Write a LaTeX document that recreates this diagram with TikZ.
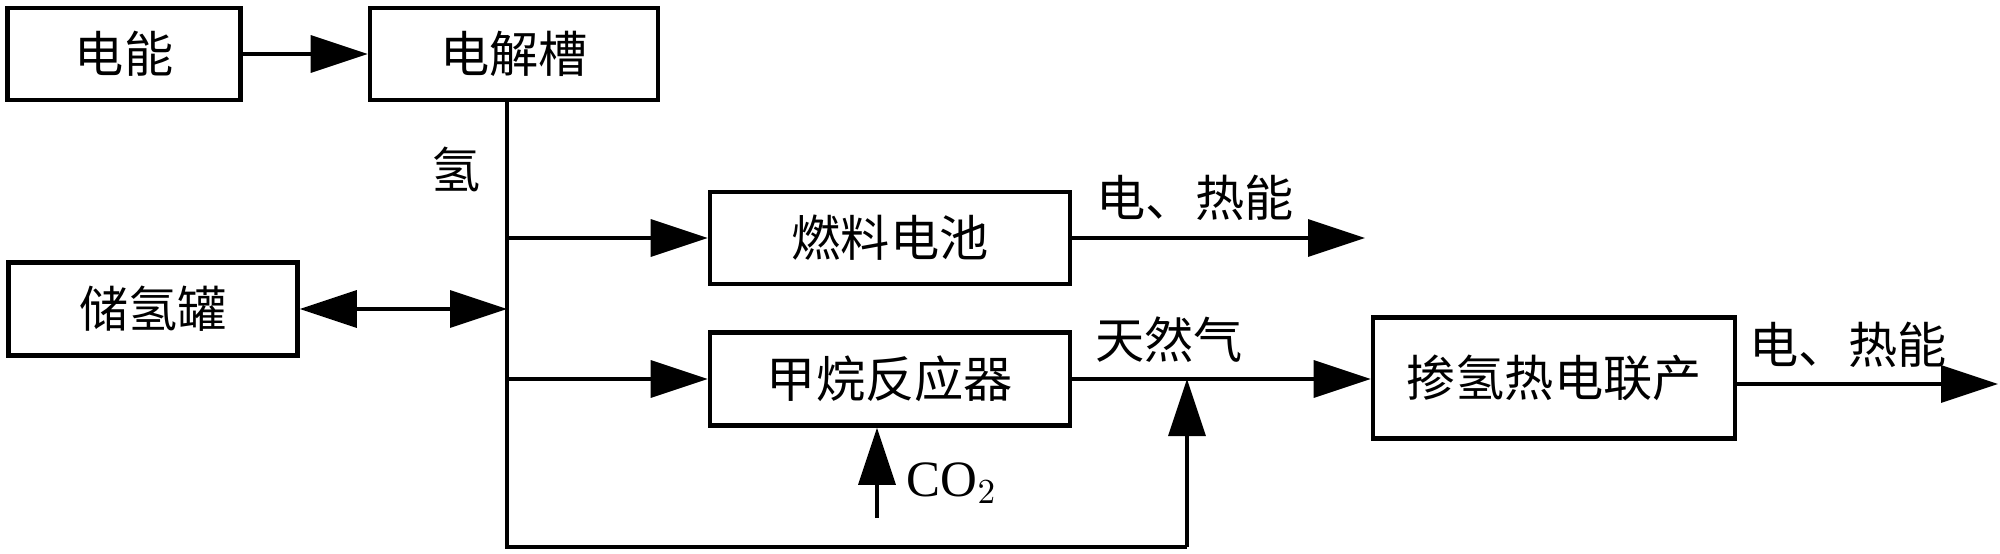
\documentclass[tikz,border=0pt]{standalone}
\usepackage{fontspec}
\setmainfont{Liberation Serif}
\newfontfamily\cjk{Noto Sans CJK SC}
\usetikzlibrary{arrows.meta}

\begin{document}
\begin{tikzpicture}[x=0.1mm,y=-0.1mm,
  bloc/.style={draw,line width=1.3pt,inner sep=0pt,font=\cjk\fontsize{14}{16}\selectfont},
  etiq/.style={inner sep=0pt,font=\cjk\fontsize{14}{16}\selectfont},
  fl/.style={line width=1pt,-{Triangle[length=5.7mm,width=3.7mm]}},
  ligne/.style={line width=1pt}]
\useasboundingbox (0,0) rectangle (2000,553);

%les blocs
\node[bloc,minimum width=23.3mm,minimum height=9.2mm] (dianneng) at (124,54) {电能};
\node[bloc,minimum width=28.8mm,minimum height=9.2mm] (dianjie) at (514,54) {电解槽};
\node[bloc,minimum width=28.9mm,minimum height=9.3mm] (chuqing) at (153,309) {储氢罐};
\node[bloc,minimum width=36mm,minimum height=9.2mm] (ranliao) at (890,238) {燃料电池};
\node[bloc,minimum width=36mm,minimum height=9.3mm] (jiawan) at (890,379) {甲烷反应器};
\node[bloc,minimum width=36.2mm,minimum height=12.1mm] (chanqing) at (1554,378) {掺氢热电联产};

%les points du tronc
\coordinate (haut) at (507,100);
\coordinate (jr) at (507,238);
\coordinate (jc) at (507,309);
\coordinate (jj) at (507,379);
\coordinate (bas) at (507,547);
\coordinate (coin) at (1187,547);
\coordinate (co2) at (877,518);
\coordinate (sortie1) at (1365,238);
\coordinate (sortie2) at (1998,384);

\draw[fl] (dianneng) -- (dianjie);
\draw[ligne] (haut) -- (bas) -- (coin);
\draw[fl] (jr) -- (ranliao.west);
\draw[fl] (jj) -- (jiawan.west);
\draw[line width=1pt,{Triangle[length=5.7mm,width=3.7mm]}-{Triangle[length=5.7mm,width=3.7mm]}] (chuqing.east) -- (jc);
\draw[fl] (ranliao.east) -- (sortie1);
\draw[fl] (jiawan.east) -- (jiawan.east -| chanqing.west);
\draw[fl] (coin) -- (coin |- jiawan.east);
\draw[fl] (co2) -- (co2 |- jiawan.south);
\draw[fl] (chanqing.east |- sortie2) -- (sortie2);

%les textes
\node[etiq] (qing) at (456,169) {氢};
\node[etiq] (re1) at (1195,198) {电、热能};
\node[etiq] (tianran) at (1169,340) {天然气};
\node[etiq] (re2) at (1848,345) {电、热能};
\node[inner sep=0pt,font=\fontsize{14.5}{16}\selectfont] (lco2) at (952,483) {CO$_2$};

\end{tikzpicture}
\end{document}
